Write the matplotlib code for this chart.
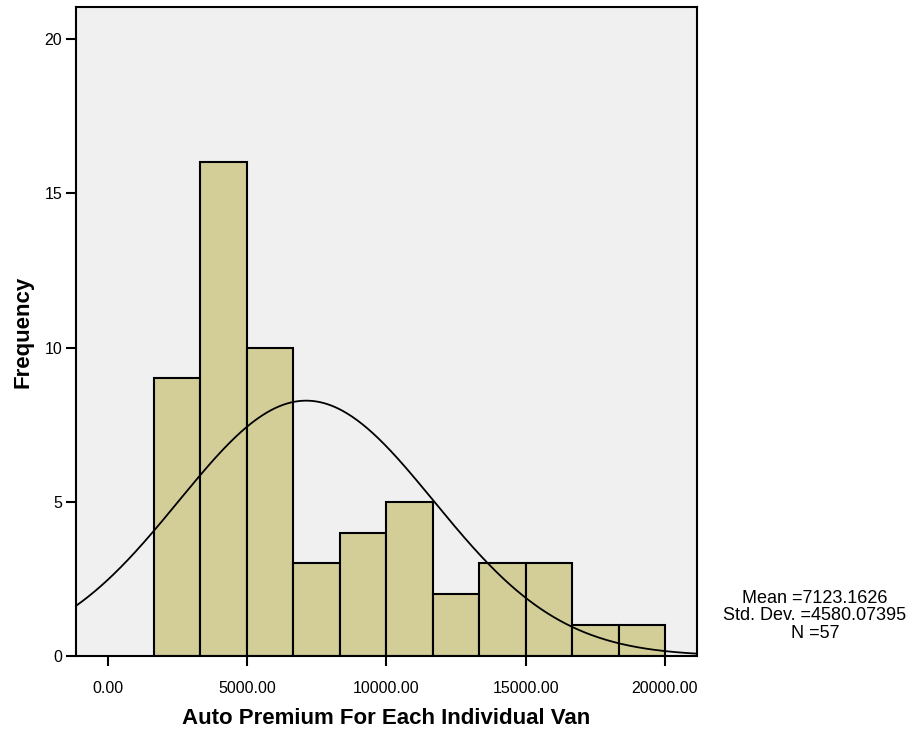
import numpy as np
import matplotlib
matplotlib.use("Agg")
import matplotlib.pyplot as plt

plt.rcParams['font.family'] = ['Liberation Sans', 'DejaVu Sans']

# Data
bin_start = 1660.0
bin_width = 1667.3
counts = [9, 16, 10, 3, 4, 5, 2, 3, 3, 1, 1]
mean = 7123.1626
std = 4580.07395
n = 57
xticks = [0, 5000, 10000, 15000, 20000]
xtick_labels = ["0.00", "5000.00", "10000.00", "15000.00", "20000.00"]
yticks = [0, 5, 10, 15, 20]

fig = plt.figure(figsize=(9.14, 7.36), dpi=100)
ax = fig.add_axes([76/914, 80/736, (697-76)/914, (656-7)/736])
ax.set_facecolor('#f0f0f0')

lefts = bin_start + bin_width * np.arange(len(counts))
ax.bar(lefts, counts, width=bin_width, align='edge', color='#d3ce97',
       edgecolor='black', linewidth=1.5, zorder=2)

xlim = (-1140, 21150)
xs = np.linspace(xlim[0], xlim[1], 500)
ys = n * bin_width / (std * np.sqrt(2 * np.pi)) * np.exp(-0.5 * ((xs - mean) / std) ** 2)
ax.plot(xs, ys, color='black', linewidth=1.3, zorder=3)

ax.set_xlim(*xlim)
ax.set_ylim(0, 21.04)
ax.set_xticks(xticks)
ax.set_xticklabels(xtick_labels)
ax.set_yticks(yticks)
ax.tick_params(direction='out', length=7, width=1.5, labelsize=11.5, pad=11, axis='x')
ax.tick_params(direction='out', length=7, width=1.5, labelsize=11.5, pad=3, axis='y')
for s in ax.spines.values():
    s.set_linewidth(1.5)
    s.set_zorder(4)

ax.set_xlabel('Auto Premium For Each Individual Van', fontsize=16, fontweight='bold', labelpad=9)
ax.set_ylabel('Frequency', fontsize=16, fontweight='bold', labelpad=8)

fig.text(815/914, 1 - 616/736, f"Mean ={mean}\nStd. Dev. ={std}\nN ={n}",
         ha='center', va='center', fontsize=13, linespacing=1.05)

fig.savefig('out.png', dpi=100)
